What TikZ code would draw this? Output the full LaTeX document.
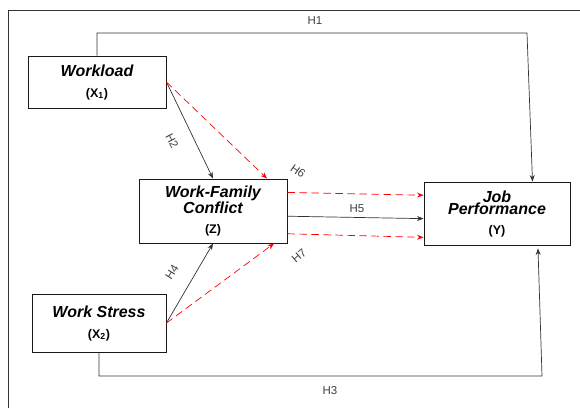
\documentclass[tikz,border=0pt]{standalone}
\usepackage{fontspec}
\setmainfont{Liberation Sans}
\usetikzlibrary{arrows.meta}
\newcommand{\vname}[1]{{\fontsize{16}{15}\selectfont\bfseries\itshape #1}}
\newcommand{\vcode}[1]{{\fontsize{12.5}{13}\selectfont\bfseries #1}}
\tikzset{
  box/.style={draw=black!90, line width=0.9pt, rectangle, align=center, inner sep=0pt},
  hlink/.style={->, >={Stealth[length=6.5pt,width=5pt]}, line width=0.7pt, draw=black!80},
  mlink/.style={->, >={Stealth[length=6.5pt,width=5pt]}, line width=0.7pt, red, dash pattern=on 7.5pt off 4.5pt},
  hlab/.style={font=\fontsize{11.5}{12}\selectfont, text=black!75, inner sep=0.5pt},
}
\begin{document}
\begin{tikzpicture}[x=1pt, y=-1pt]
  \useasboundingbox (0,0) rectangle (580,408);
  \draw[line width=0.9pt, black!80] (8,408) -- (8,10) -- (580,10);
  \node[box, minimum width=138pt, minimum height=52pt] (wl) at (97,82) {\vname{Workload}\\[9pt]\vcode{(X\textsubscript{1})}};
  \node[box, minimum width=148pt, minimum height=64pt] (wfc) at (213,211) {\vname{Work-Family}\\\vname{Conflict}\\[8pt]\vcode{(Z)}};
  \node[box, minimum width=134pt, minimum height=58pt] (ws) at (99,323) {\vname{Work Stress}\\[9pt]\vcode{(X\textsubscript{2})}};
  \node[box, minimum width=146pt, minimum height=63pt] (jp) at (497,213.5) {\vname{Job}\\\vname{Performance}\\[8pt]\vcode{(Y)}};
  \coordinate (h1a) at (527,33);
  \coordinate (h3a) at (542,376);
  \draw[hlink] (wl.north) |- (h1a) -- (jp.42);
  \draw[hlink, shorten >=3pt] (ws.south) |- (h3a) -- (jp.-38);
  \draw[hlink] (wl.east) -- (wfc.north);
  \draw[mlink] (wl.east) -- (wfc.31);
  \draw[hlink] (ws.east) -- (wfc.south);
  \draw[mlink] (ws.east) -- (wfc.-28);
  \draw[hlink] (wfc.-4) -- (jp.184);
  \draw[mlink] (wfc.14) -- (jp.166);
  \draw[mlink] (wfc.-17) -- (jp.198);
  \node[hlab] (h1) at (315,21) {H1};
  \node[hlab, rotate=-62] (h2) at (172,141) {H2};
  \node[hlab] (h3) at (330,391) {H3};
  \node[hlab, rotate=58] (h4) at (172,272) {H4};
  \node[hlab] (h5) at (357,209) {H5};
  \node[hlab, rotate=-35] (h6) at (298,171) {H6};
  \node[hlab, rotate=40] (h7) at (299,256) {H7};
\end{tikzpicture}
\end{document}
